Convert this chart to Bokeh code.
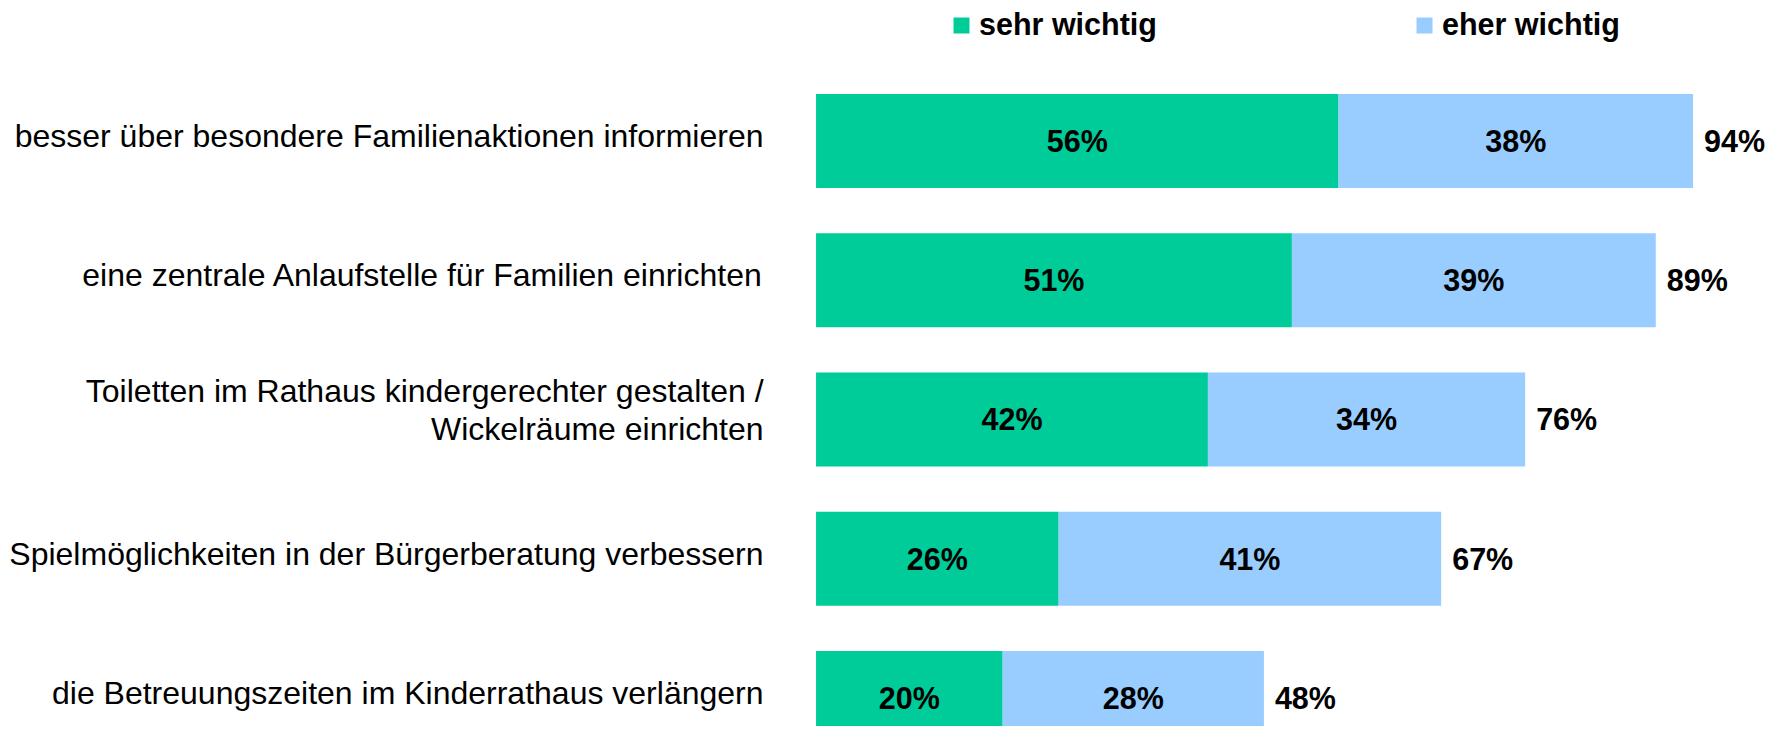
from bokeh.plotting import figure
from bokeh.models import ColumnDataSource, Range1d, Legend, LegendItem
from bokeh.core.properties import value
from bokeh.embed import file_html
from bokeh.resources import INLINE

categories = [
    "besser über besondere Familienaktionen informieren",
    "eine zentrale Anlaufstelle für Familien einrichten",
    "Toiletten im Rathaus kindergerechter gestalten /\nWickelräume einrichten",
    "Spielmöglichkeiten in der Bürgerberatung verbessern",
    "die Betreuungszeiten im Kinderrathaus verlängern",
]
sehr_wichtig = [56, 51, 42, 26, 20]
eher_wichtig = [38, 39, 34, 41, 28]
gesamt = [94, 89, 76, 67, 48]
series_names = ["sehr wichtig", "eher wichtig"]

GREEN = "#00CC99"
BLUE = "#99CCFF"
FONT = "Liberation Sans"

pos = list(range(len(categories)))
stack_end = [a + b for a, b in zip(sehr_wichtig, eher_wichtig)]
n_lines = [c.count("\n") + 1 for c in categories]
src = ColumnDataSource(dict(
    y=pos,
    cat=categories,
    sehr=sehr_wichtig,
    eher=eher_wichtig,
    end=stack_end,
    sehr_mid=[a / 2 for a in sehr_wichtig],
    eher_mid=[a + b / 2 for a, b in zip(sehr_wichtig, eher_wichtig)],
    sehr_lbl=[f"{v}%" for v in sehr_wichtig],
    eher_lbl=[f"{v}%" for v in eher_wichtig],
    tot_lbl=[f"{v}%" for v in gesamt],
    zero=[0] * len(categories),
    cat_off=[-5 - 4.5 * (n - 1) for n in n_lines],
))

W, H = 1769, 726
p = figure(width=W, height=H, output_backend="svg", toolbar_location=None,
           x_range=Range1d(-87.41, 102.19), y_range=Range1d(4.2039, -1.0079),
           min_border=0, outline_line_color=None)
p.axis.visible = False
p.grid.visible = False

BAR_H = 0.675
r1 = p.hbar(y="y", left="zero", right="sehr", height=BAR_H, source=src,
            fill_color=GREEN, line_color=None)
r2 = p.hbar(y="y", left="sehr", right="end", height=BAR_H, source=src,
            fill_color=BLUE, line_color=None)

common = dict(text_font=value(FONT), text_font_size="30.5px",
              text_font_style="bold", text_color="black", text_baseline="middle")
p.text(x="sehr_mid", y="y", text="sehr_lbl", source=src, text_align="center", **common)
p.text(x="eher_mid", y="y", text="eher_lbl", source=src, text_align="center", **common)
p.text(x="end", y="y", text="tot_lbl", source=src, text_align="left", x_offset=11, **common)

p.text(x=-5.63, y="y", text="cat", source=src, text_align="right", text_baseline="middle",
       text_font=value(FONT), text_font_size="32px", text_color="black",
       text_line_height=1.04, y_offset="cat_off")

legend = Legend(items=[LegendItem(label=series_names[0], renderers=[r1]),
                       LegendItem(label=series_names[1], renderers=[r2])],
                orientation="horizontal", location=(951, 684),
                glyph_width=20, glyph_height=20, label_standoff=8, spacing=257,
                padding=0, margin=0, border_line_color=None,
                background_fill_alpha=0,
                label_text_font=FONT, label_text_font_size="30.5px",
                label_text_font_style="bold", label_text_color="black")
p.add_layout(legend)

open("out.html", "w").write(file_html(p, INLINE))
